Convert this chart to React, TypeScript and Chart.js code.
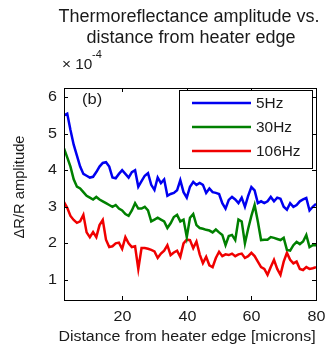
import { useEffect, useRef } from 'react';
import { Chart, registerables } from 'chart.js';

Chart.register(...registerables);

const distance = [2, 3, 4, 5, 6, 7, 8, 9, 10, 11, 12, 13, 14, 15, 16, 17, 18, 19, 20, 21, 22, 23, 24, 25, 26, 27, 28, 29, 30, 31, 32, 33, 34, 35, 36, 37, 38, 39, 40, 41, 42, 43, 44, 45, 46, 47, 48, 49, 50, 51, 52, 53, 54, 55, 56, 57, 58, 59, 60, 61, 62, 63, 64, 65, 66, 67, 68, 69, 70, 71, 72, 73, 74, 75, 76, 77, 78, 79, 80];

const amp5Hz = [5.5, 5.55, 5.1, 4.7, 4.4, 4.1, 3.9, 3.85, 3.8, 3.82, 3.95, 4.1, 4.2, 4.22, 4.1, 3.8, 3.78, 3.9, 4.0, 3.9, 3.8, 3.95, 4.0, 3.55, 3.7, 3.85, 3.92, 3.6, 3.46, 3.8, 3.65, 3.75, 3.3, 3.35, 3.38, 3.45, 3.73, 3.4, 3.25, 3.55, 3.68, 3.6, 3.65, 3.6, 3.38, 3.5, 3.4, 3.38, 3.35, 3.1, 2.95, 3.19, 3.27, 3.2, 3.1, 3.25, 3.0, 3.3, 3.54, 3.45, 3.1, 3.15, 3.1, 3.15, 3.27, 3.15, 3.25, 3.22, 3.0, 2.92, 3.1, 3.0, 3.05, 3.15, 3.2, 3.24, 2.9, 3.0, 3.08];

const amp30Hz = [4.6, 4.35, 4.1, 3.75, 3.55, 3.5, 3.4, 3.3, 3.25, 3.2, 3.27, 3.2, 3.15, 3.1, 3.05, 3.0, 3.05, 2.95, 2.9, 2.8, 2.75, 2.9, 3.1, 2.95, 2.95, 3.0, 2.9, 2.6, 2.65, 2.7, 2.65, 2.6, 2.42, 2.55, 2.72, 2.78, 2.6, 2.65, 2.17, 2.7, 2.8, 2.5, 2.42, 2.4, 2.37, 2.35, 2.3, 2.38, 2.3, 2.23, 1.95, 2.2, 2.23, 2.09, 2.65, 2.6, 2.0, 2.4, 2.75, 3.05, 2.6, 2.09, 2.1, 2.1, 2.17, 2.15, 2.12, 2.09, 2.15, 1.82, 1.8, 1.95, 2.04, 1.98, 2.05, 2.23, 1.9, 1.95, 1.95];

const amp106Hz = [3.13, 2.97, 2.75, 2.64, 2.56, 2.6, 2.78, 2.3, 2.17, 2.31, 2.17, 2.5, 2.64, 2.1, 1.9, 1.92, 2.0, 2.02, 1.85, 2.17, 2.0, 1.9, 1.92, 1.3, 1.87, 1.87, 1.85, 1.82, 1.78, 1.6, 1.72, 1.8, 1.95, 1.68, 1.75, 1.8, 1.63, 2.0, 2.1, 2.09, 1.87, 2.05, 1.7, 1.46, 1.63, 1.4, 1.35, 1.6, 1.77, 1.65, 1.7, 1.68, 1.72, 1.65, 1.7, 1.72, 1.6, 1.65, 1.74, 1.65, 1.5, 1.35, 1.3, 1.14, 1.35, 1.55, 1.3, 1.14, 1.5, 1.74, 1.55, 1.45, 1.5, 1.3, 1.27, 1.35, 1.3, 1.32, 1.35];

const seriesLabels = ['5Hz', '30Hz', '106Hz'];
const seriesColors = ['#0000f0', '#008000', '#f00000'];
const xTicks = [20, 40, 60, 80];
const yTicks = [1, 2, 3, 4, 5, 6];
const titleLines = ['Thermoreflectance amplitude vs.', 'distance from heater edge'];
const xTitle = 'Distance from heater edge [microns]';
const yTitle = '\u0394R/R amplitude';
const panelLabel = '(b)';

const FONT = '"Liberation Sans", Arial, sans-serif';
const TEXT = '#1a1a1a';

function drawText(ctx: any, text: string, x: number, y: number, size: number, align: string, stretch: number, baseline = 'alphabetic') {
  ctx.save();
  ctx.font = `${size}px ${FONT}`;
  ctx.textAlign = align;
  ctx.textBaseline = baseline;
  ctx.fillStyle = TEXT;
  ctx.translate(x, y);
  ctx.scale(stretch, 1);
  ctx.fillText(text, 0, 0);
  ctx.restore();
}

const decor = {
  id: 'decor',
  afterDraw(chart: any) {
    const { ctx, chartArea: a, scales } = chart;
    ctx.save();
    ctx.strokeStyle = '#000';
    ctx.lineWidth = 1;
    const line = (x1: number, y1: number, x2: number, y2: number) => {
      ctx.beginPath();
      ctx.moveTo(x1, y1);
      ctx.lineTo(x2, y2);
      ctx.stroke();
    };
    ctx.strokeRect(Math.round(a.left) + 0.5, Math.round(a.top) + 0.5, Math.round(a.right - a.left), Math.round(a.bottom - a.top));
    xTicks.forEach((v) => {
      const px = Math.round(scales.x.getPixelForValue(v)) + 0.5;
      line(px, a.bottom, px, a.bottom - 4);
      line(px, a.top, px, a.top + 4);
      drawText(ctx, String(v), px, a.bottom + 17, 14, 'center', 1.15, 'middle');
    });
    yTicks.forEach((v) => {
      const py = Math.round(scales.y.getPixelForValue(v)) + 0.5;
      line(a.left, py, a.left + 4, py);
      line(a.right, py, a.right - 4, py);
      drawText(ctx, String(v), a.left - 7, py, 14, 'right', 1.15, 'middle');
    });

    drawText(ctx, titleLines[0], 189, 22, 18, 'center', 1);
    drawText(ctx, titleLines[1], 191, 43, 18, 'center', 1);

    drawText(ctx, '\u00d7 10', 62, 69, 14, 'left', 1.1);
    drawText(ctx, '-4', 92, 58, 10, 'left', 1.1);

    drawText(ctx, xTitle, 187, 341, 14, 'center', 1.14);

    ctx.save();
    ctx.translate(24, 187);
    ctx.rotate(-Math.PI / 2);
    drawText(ctx, yTitle, 0, 0, 14, 'center', 1.05);
    ctx.restore();

    drawText(ctx, panelLabel, 82, 104, 15, 'left', 1.1);

    // legend
    const lx = 179, ly = 90, lw = 133, lh = 78;
    ctx.fillStyle = '#fff';
    ctx.fillRect(lx, ly, lw, lh);
    ctx.strokeStyle = '#000';
    ctx.lineWidth = 1;
    ctx.strokeRect(lx + 0.5, ly + 0.5, lw, lh);
    const rows = [103, 127, 151];
    seriesLabels.forEach((lab, i) => {
      ctx.strokeStyle = seriesColors[i];
      ctx.lineWidth = 2.5;
      line(192, rows[i], 251, rows[i]);
      drawText(ctx, lab, 256, rows[i] + 1, 14, 'left', 1.1, 'middle');
    });
    ctx.restore();
  },
};

export default function App() {
  const ref = useRef<HTMLCanvasElement | null>(null);
  useEffect(() => {
    if (!ref.current) return;
    const mk = (vals: number[]) => distance.map((x, i) => ({ x, y: vals[i] }));
    const seriesValues = [amp5Hz, amp30Hz, amp106Hz];
    const chart = new Chart(ref.current, {
      type: 'line',
      data: {
        datasets: seriesLabels.map((label, i) => ({
          label,
          data: mk(seriesValues[i]),
          borderColor: seriesColors[i],
          backgroundColor: seriesColors[i],
          borderWidth: 2.5,
          pointRadius: 0,
          tension: 0,
        })),
      },
      options: {
        animation: false,
        responsive: false,
        devicePixelRatio: 1,
        layout: { padding: { left: 0, top: 88, right: 9, bottom: 0 } },
        plugins: { legend: { display: false }, title: { display: false }, tooltip: { enabled: false } },
        scales: {
          x: {
            type: 'linear',
            min: 2,
            max: 80,
            grid: { display: false, drawTicks: false },
            border: { display: false },
            afterBuildTicks: (s: any) => { s.ticks = xTicks.map((v) => ({ value: v })); },
            afterFit: (s: any) => { s.height = 46; },
            ticks: { display: false },
          },
          y: {
            type: 'linear',
            min: 0.45,
            max: 6.25,
            grid: { display: false, drawTicks: false },
            border: { display: false },
            afterBuildTicks: (s: any) => { s.ticks = yTicks.map((v) => ({ value: v })); },
            afterFit: (s: any) => { s.width = 64; },
            ticks: { display: false },
          },
        },
      },
      plugins: [decor],
    });
    return () => chart.destroy();
  }, []);
  return (
    <div style={{ position: 'fixed', left: 0, top: 0, width: 325, height: 346, background: '#fff' }}>
      <canvas ref={ref} width={325} height={346} />
    </div>
  );
}
